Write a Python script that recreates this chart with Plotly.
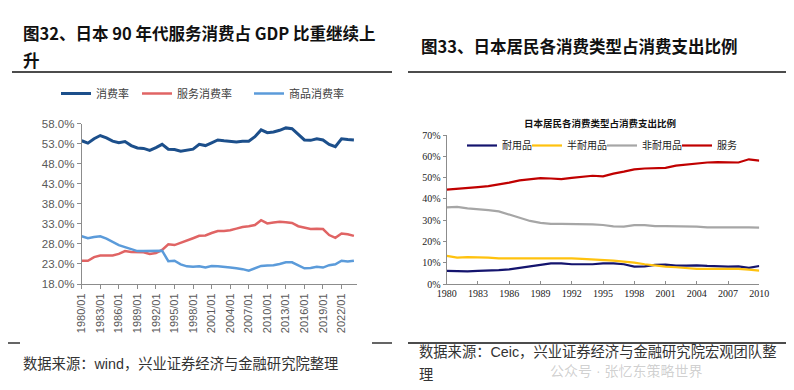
import plotly.graph_objects as go

# ---------------- Left chart data (图32) ----------------
years_left = list(range(1980, 2025))
consumption_rate = [53.7, 53.1, 54.2, 55.0, 54.4, 53.6, 53.2, 53.5, 52.5, 51.9,
                    51.8, 51.3, 52.0, 52.8, 51.6, 51.5, 51.1, 51.3, 51.6, 52.8,
                    52.5, 53.2, 53.9, 53.7, 53.5, 53.4, 53.6, 53.6, 54.7, 56.4,
                    55.7, 55.9, 56.3, 56.9, 56.7, 55.2, 53.9, 53.8, 54.2, 53.9,
                    52.8, 52.2, 54.2, 54.0, 53.9]
service_rate = [23.8, 23.8, 24.7, 25.1, 25.1, 25.1, 25.5, 26.2, 26.0, 25.9,
                25.9, 25.5, 25.7, 26.5, 27.9, 27.7, 28.2, 28.8, 29.4, 30.0,
                30.1, 30.7, 31.2, 31.2, 31.4, 31.8, 32.2, 32.4, 32.7, 33.9,
                33.1, 33.3, 33.5, 33.4, 33.2, 32.4, 32.0, 31.7, 31.8, 31.7,
                30.2, 29.5, 30.6, 30.4, 30.0]
goods_rate = [29.9, 29.4, 29.7, 29.9, 29.3, 28.4, 27.7, 27.2, 26.7, 26.2,
              26.2, 26.2, 26.2, 26.3, 23.7, 23.8, 22.9, 22.4, 22.3, 22.4,
              22.1, 22.5, 22.4, 22.3, 22.1, 21.9, 21.7, 21.3, 22.0, 22.5,
              22.6, 22.7, 23.0, 23.4, 23.4, 22.6, 21.9, 22.0, 22.3, 22.1,
              22.7, 22.9, 23.8, 23.6, 23.8]
left_tick_years = list(range(1980, 2023, 3))
left_tick_text = [f"{y}/01" for y in left_tick_years]
left_y_ticks = [18, 23, 28, 33, 38, 43, 48, 53, 58]
left_y_text = [f"{v:.1f}%" for v in left_y_ticks]

# ---------------- Right chart data (图33) ----------------
years_right = list(range(1980, 2011))
durable = [6.3, 6.1, 6.1, 6.3, 6.4, 6.6, 7.0, 7.7, 8.6, 9.2,
           9.8, 9.8, 9.4, 9.4, 9.4, 9.8, 9.8, 9.4, 8.3, 8.4,
           9.1, 9.2, 8.8, 8.8, 8.9, 8.6, 8.3, 8.3, 8.4, 7.7, 8.6]
semi_durable = [13.3, 12.5, 12.7, 12.7, 12.5, 12.2, 12.2, 12.2, 12.0, 12.0,
                12.3, 12.3, 12.2, 11.9, 11.7, 11.6, 11.1, 10.6, 10.2, 9.4,
                8.8, 8.3, 8.0, 7.7, 7.2, 7.3, 7.3, 7.3, 7.2, 6.9, 6.4]
nondurable = [36.1, 36.3, 35.6, 35.3, 34.8, 34.2, 32.7, 30.9, 29.7, 28.8,
              28.3, 28.3, 28.3, 28.1, 28.1, 27.8, 27.2, 27.0, 27.7, 27.7,
              27.3, 27.3, 27.3, 27.2, 27.0, 26.7, 26.7, 26.9, 27.0, 26.7, 26.6]
services = [44.4, 44.9, 45.3, 45.6, 46.0, 46.7, 47.7, 48.7, 49.2, 49.8,
            49.6, 49.3, 49.9, 50.3, 50.9, 50.6, 51.9, 52.8, 53.9, 54.3,
            54.4, 54.6, 55.6, 56.2, 56.6, 57.1, 57.3, 57.3, 57.1, 58.6, 58.0]
right_y_ticks = [0, 10, 20, 30, 40, 50, 60, 70]
right_y_text = [f"{v}%" for v in right_y_ticks]

# page has an 8px body margin; the figure is sized to fit the 794x390 window
OFF = 8
W, H = 794 - 2 * OFF, 390 - 2 * OFF


def px(x):
    return (x - OFF) / W


def py(y):
    return 1 - (y - OFF) / H


SANS = "Liberation Sans, Noto Sans CJK SC, sans-serif"
CJK_BOLD = "Noto Sans CJK SC, Liberation Sans, sans-serif"
SERIF = "Liberation Serif, Noto Sans CJK SC, serif"

fig = go.Figure()

fig.add_trace(go.Scatter(x=years_left, y=consumption_rate, name="消费率", mode="lines",
                         line=dict(color="#1C4F8B", width=3), xaxis="x", yaxis="y",
                         legend="legend", legendwidth=36))
fig.add_trace(go.Scatter(x=years_left, y=service_rate, name="服务消费率", mode="lines",
                         line=dict(color="#E06464", width=2.5), xaxis="x", yaxis="y",
                         legend="legend", legendwidth=67))
fig.add_trace(go.Scatter(x=years_left, y=goods_rate, name="商品消费率", mode="lines",
                         line=dict(color="#5B9BDA", width=2.5), xaxis="x", yaxis="y",
                         legend="legend", legendwidth=60))

fig.add_trace(go.Scatter(x=years_right, y=durable, name="耐用品", mode="lines",
                         line=dict(color="#14146E", width=2.2), xaxis="x2", yaxis="y2",
                         legend="legend2", legendwidth=20))
fig.add_trace(go.Scatter(x=years_right, y=semi_durable, name="半耐用品", mode="lines",
                         line=dict(color="#FFC20E", width=2.2), xaxis="x2", yaxis="y2",
                         legend="legend2", legendwidth=30))
fig.add_trace(go.Scatter(x=years_right, y=nondurable, name="非耐用品", mode="lines",
                         line=dict(color="#A6A6A6", width=2.2), xaxis="x2", yaxis="y2",
                         legend="legend2", legendwidth=30))
fig.add_trace(go.Scatter(x=years_right, y=services, name="服务", mode="lines",
                         line=dict(color="#C00000", width=2.2), xaxis="x2", yaxis="y2",
                         legend="legend2", legendwidth=30))

axis_gray = "#8C8C8C"

fig.update_layout(
    width=W, height=H, autosize=False,
    margin=dict(l=0, r=0, t=0, b=0, pad=0),
    paper_bgcolor="white", plot_bgcolor="white",
    font=dict(family=SANS, color="#404040"),
    xaxis=dict(domain=[px(81.7), px(357)], range=[1980, 2024.5], anchor="y",
               tickmode="array", tickvals=left_tick_years, ticktext=left_tick_text,
               tickangle=-90, showline=True, linecolor=axis_gray, linewidth=1,
               ticks="outside", ticklen=4, tickcolor=axis_gray, showgrid=False,
               zeroline=False, automargin=False,
               tickfont=dict(size=11, color="#595959", family=SANS)),
    yaxis=dict(domain=[py(284), py(123.5)], range=[18, 58], anchor="x",
               tickmode="array", tickvals=left_y_ticks, ticktext=left_y_text,
               showline=True, linecolor=axis_gray, linewidth=1, ticks="outside",
               ticklen=4, tickcolor=axis_gray, showgrid=False, zeroline=False,
               automargin=False,
               tickfont=dict(size=11.5, color="#595959", family=SANS)),
    xaxis2=dict(domain=[px(446.7), px(759.3)], range=[1980, 2010], anchor="y2",
                tickmode="linear", tick0=1980, dtick=3, showline=True,
                linecolor=axis_gray, linewidth=1, ticks="inside", ticklen=3,
                tickcolor=axis_gray, showgrid=False, zeroline=False, automargin=False,
                tickfont=dict(size=10, color="#222222", family=SERIF)),
    yaxis2=dict(domain=[py(284.3), py(135)], range=[0, 70], anchor="x2",
                tickmode="array", tickvals=right_y_ticks, ticktext=right_y_text,
                showline=True, linecolor=axis_gray, linewidth=1, ticks="outside",
                ticklen=3, tickcolor=axis_gray, showgrid=False, zeroline=False,
                automargin=False,
                tickfont=dict(size=10, color="#222222", family=SERIF)),
    legend=dict(orientation="h", x=px(56), y=py(79), xanchor="left", yanchor="top",
                font=dict(size=11, color="#404040", family=SANS),
                bgcolor="rgba(0,0,0,0)", itemwidth=30, traceorder="normal"),
    legend2=dict(orientation="h", x=px(462), y=py(131), xanchor="left", yanchor="top",
                 font=dict(size=10, color="#222222", family=SERIF),
                 bgcolor="rgba(0,0,0,0)", itemwidth=30, traceorder="normal"),
)

annotations = [
    dict(text="<b>图32、日本 90 年代服务消费占 GDP 比重继续上</b>", x=px(21), y=py(33),
         font=dict(size=16.5, color="#111111", family=CJK_BOLD)),
    dict(text="<b>升</b>", x=px(21), y=py(60),
         font=dict(size=16.5, color="#111111", family=CJK_BOLD)),
    dict(text="<b>图33、日本居民各消费类型占消费支出比例</b>", x=px(419), y=py(46),
         font=dict(size=16.5, color="#111111", family=CJK_BOLD)),
    dict(text="<b>日本居民各消费类型占消费支出比例</b>", x=px(600), y=py(123),
         xanchor="center", font=dict(size=9.5, color="#111111", family=SERIF)),
    dict(text="数据来源：wind，兴业证券经济与金融研究院整理", x=px(21), y=py(364),
         font=dict(size=14.3, color="#333333", family=SANS)),
    dict(text="数据来源：Ceic，兴业证券经济与金融研究院宏观团队整", x=px(417), y=py(352),
         font=dict(size=14.3, color="#333333", family=SANS)),
    dict(text="理", x=px(417), y=py(375),
         font=dict(size=14.3, color="#333333", family=SANS)),
    dict(text="公众号 · 张忆东策略世界", x=px(548), y=py(371),
         font=dict(size=14, color="rgba(150,150,150,0.45)", family=SANS)),
]
for a in annotations:
    a.setdefault("xanchor", "left")
    a.update(xref="paper", yref="paper", yanchor="middle", showarrow=False)
fig.update_layout(annotations=annotations)

shapes = [
    dict(type="line", x0=px(12), x1=px(392), y0=py(72), y1=py(72)),
    dict(type="line", x0=px(408), x1=px(786), y0=py(72), y1=py(72)),
    dict(type="line", x0=px(8), x1=px(20), y0=py(343), y1=py(343)),
    dict(type="line", x0=px(372), x1=px(392), y0=py(343), y1=py(343)),
    dict(type="line", x0=px(408), x1=px(786), y0=py(343), y1=py(343)),
]
for s in shapes:
    s.update(xref="paper", yref="paper", line=dict(color="#111111", width=1.3))
fig.update_layout(shapes=shapes)

fig.write_html("out.html")
